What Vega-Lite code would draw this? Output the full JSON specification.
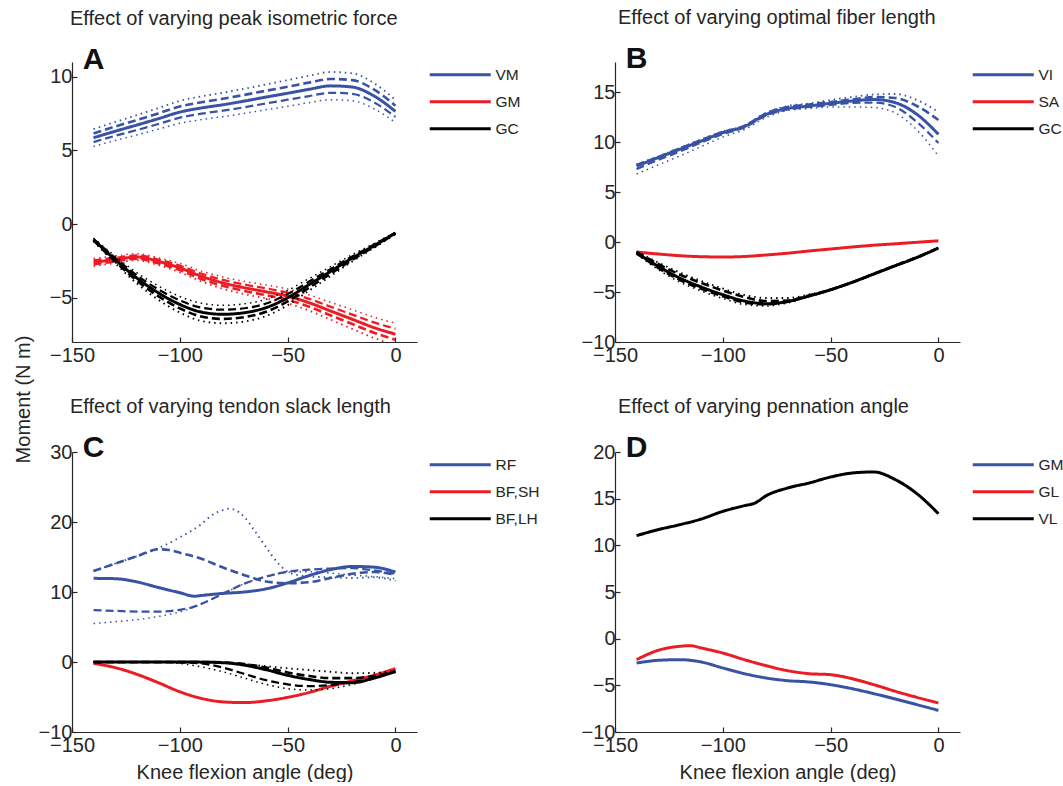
{
"$schema":"https://vega.github.io/schema/vega-lite/v6.json",
"padding":{"left":13,"top":8,"right":0,"bottom":0},
"background":"white",
"config":{"font":"Liberation Sans","view":{"stroke":null},
 "axis":{"grid":false,"domainColor":"#262626","tickColor":"#262626","labelColor":"#262626","titleColor":"#262626","labelFontSize":20,"titleFontSize":20,"titleFontWeight":"normal","tickSize":-5,"labelPadding":5,"domainWidth":1.2,"tickWidth":1.2,"labelFlush":false},
 "axisX":{"labelPadding":8,"titlePadding":7},
 "legend":{"symbolType":"M-12.2,0H0","symbolSize":100,"symbolStrokeWidth":3,"labelFontSize":15.5,"labelColor":"#262626","rowPadding":10,"padding":5,"offset":61,"labelOffset":-3},
 "title":{"fontSize":20,"fontWeight":"normal","anchor":"start","frame":"group","color":"#262626","baseline":"alphabetic","offset":16},
 "text":{"font":"Liberation Sans"}},
"resolve":{"scale":{"color":"independent"},"legend":{"color":"independent"}},
"datasets":{
"A":[
{"m":"VM","v":"s","x":-140,"y":5.86},{"m":"VM","v":"s","x":-130,"y":6.3},{"m":"VM","v":"s","x":-120,"y":6.72},{"m":"VM","v":"s","x":-110,"y":7.15},{"m":"VM","v":"s","x":-100,"y":7.6},{"m":"VM","v":"s","x":-90,"y":7.88},{"m":"VM","v":"s","x":-80,"y":8.1},{"m":"VM","v":"s","x":-70,"y":8.35},{"m":"VM","v":"s","x":-60,"y":8.62},{"m":"VM","v":"s","x":-50,"y":8.88},{"m":"VM","v":"s","x":-40,"y":9.15},{"m":"VM","v":"s","x":-30,"y":9.38},{"m":"VM","v":"s","x":-20,"y":9.3},{"m":"VM","v":"s","x":-10,"y":8.7},{"m":"VM","v":"s","x":0,"y":7.65},
{"m":"VM","v":"d1","x":-140,"y":6.15},{"m":"VM","v":"d1","x":-130,"y":6.62},{"m":"VM","v":"d1","x":-120,"y":7.06},{"m":"VM","v":"d1","x":-110,"y":7.51},{"m":"VM","v":"d1","x":-100,"y":7.98},{"m":"VM","v":"d1","x":-90,"y":8.27},{"m":"VM","v":"d1","x":-80,"y":8.51},{"m":"VM","v":"d1","x":-70,"y":8.77},{"m":"VM","v":"d1","x":-60,"y":9.05},{"m":"VM","v":"d1","x":-50,"y":9.32},{"m":"VM","v":"d1","x":-40,"y":9.61},{"m":"VM","v":"d1","x":-30,"y":9.85},{"m":"VM","v":"d1","x":-20,"y":9.77},{"m":"VM","v":"d1","x":-10,"y":9.14},{"m":"VM","v":"d1","x":0,"y":8.03},
{"m":"VM","v":"d2","x":-140,"y":5.57},{"m":"VM","v":"d2","x":-130,"y":5.99},{"m":"VM","v":"d2","x":-120,"y":6.38},{"m":"VM","v":"d2","x":-110,"y":6.79},{"m":"VM","v":"d2","x":-100,"y":7.22},{"m":"VM","v":"d2","x":-90,"y":7.49},{"m":"VM","v":"d2","x":-80,"y":7.7},{"m":"VM","v":"d2","x":-70,"y":7.93},{"m":"VM","v":"d2","x":-60,"y":8.19},{"m":"VM","v":"d2","x":-50,"y":8.44},{"m":"VM","v":"d2","x":-40,"y":8.69},{"m":"VM","v":"d2","x":-30,"y":8.91},{"m":"VM","v":"d2","x":-20,"y":8.84},{"m":"VM","v":"d2","x":-10,"y":8.27},{"m":"VM","v":"d2","x":0,"y":7.27},
{"m":"VM","v":"o1","x":-140,"y":6.45},{"m":"VM","v":"o1","x":-130,"y":6.93},{"m":"VM","v":"o1","x":-120,"y":7.39},{"m":"VM","v":"o1","x":-110,"y":7.87},{"m":"VM","v":"o1","x":-100,"y":8.36},{"m":"VM","v":"o1","x":-90,"y":8.67},{"m":"VM","v":"o1","x":-80,"y":8.91},{"m":"VM","v":"o1","x":-70,"y":9.19},{"m":"VM","v":"o1","x":-60,"y":9.48},{"m":"VM","v":"o1","x":-50,"y":9.77},{"m":"VM","v":"o1","x":-40,"y":10.07},{"m":"VM","v":"o1","x":-30,"y":10.32},{"m":"VM","v":"o1","x":-20,"y":10.23},{"m":"VM","v":"o1","x":-10,"y":9.57},{"m":"VM","v":"o1","x":0,"y":8.42},
{"m":"VM","v":"o2","x":-140,"y":5.27},{"m":"VM","v":"o2","x":-130,"y":5.67},{"m":"VM","v":"o2","x":-120,"y":6.05},{"m":"VM","v":"o2","x":-110,"y":6.44},{"m":"VM","v":"o2","x":-100,"y":6.84},{"m":"VM","v":"o2","x":-90,"y":7.09},{"m":"VM","v":"o2","x":-80,"y":7.29},{"m":"VM","v":"o2","x":-70,"y":7.52},{"m":"VM","v":"o2","x":-60,"y":7.76},{"m":"VM","v":"o2","x":-50,"y":7.99},{"m":"VM","v":"o2","x":-40,"y":8.24},{"m":"VM","v":"o2","x":-30,"y":8.44},{"m":"VM","v":"o2","x":-20,"y":8.37},{"m":"VM","v":"o2","x":-10,"y":7.83},{"m":"VM","v":"o2","x":0,"y":6.89},
{"m":"GM","v":"s","x":-140,"y":-2.59},{"m":"GM","v":"s","x":-130,"y":-2.41},{"m":"GM","v":"s","x":-120,"y":-2.23},{"m":"GM","v":"s","x":-110,"y":-2.53},{"m":"GM","v":"s","x":-100,"y":-2.97},{"m":"GM","v":"s","x":-90,"y":-3.54},{"m":"GM","v":"s","x":-80,"y":-3.99},{"m":"GM","v":"s","x":-70,"y":-4.32},{"m":"GM","v":"s","x":-60,"y":-4.59},{"m":"GM","v":"s","x":-50,"y":-4.89},{"m":"GM","v":"s","x":-40,"y":-5.34},{"m":"GM","v":"s","x":-30,"y":-5.9},{"m":"GM","v":"s","x":-20,"y":-6.46},{"m":"GM","v":"s","x":-10,"y":-7.02},{"m":"GM","v":"s","x":0,"y":-7.47},
{"m":"GM","v":"d1","x":-140,"y":-2.72},{"m":"GM","v":"d1","x":-130,"y":-2.53},{"m":"GM","v":"d1","x":-120,"y":-2.34},{"m":"GM","v":"d1","x":-110,"y":-2.66},{"m":"GM","v":"d1","x":-100,"y":-3.12},{"m":"GM","v":"d1","x":-90,"y":-3.72},{"m":"GM","v":"d1","x":-80,"y":-4.19},{"m":"GM","v":"d1","x":-70,"y":-4.54},{"m":"GM","v":"d1","x":-60,"y":-4.82},{"m":"GM","v":"d1","x":-50,"y":-5.13},{"m":"GM","v":"d1","x":-40,"y":-5.61},{"m":"GM","v":"d1","x":-30,"y":-6.2},{"m":"GM","v":"d1","x":-20,"y":-6.78},{"m":"GM","v":"d1","x":-10,"y":-7.37},{"m":"GM","v":"d1","x":0,"y":-7.84},
{"m":"GM","v":"d2","x":-140,"y":-2.46},{"m":"GM","v":"d2","x":-130,"y":-2.29},{"m":"GM","v":"d2","x":-120,"y":-2.12},{"m":"GM","v":"d2","x":-110,"y":-2.4},{"m":"GM","v":"d2","x":-100,"y":-2.82},{"m":"GM","v":"d2","x":-90,"y":-3.36},{"m":"GM","v":"d2","x":-80,"y":-3.79},{"m":"GM","v":"d2","x":-70,"y":-4.1},{"m":"GM","v":"d2","x":-60,"y":-4.36},{"m":"GM","v":"d2","x":-50,"y":-4.65},{"m":"GM","v":"d2","x":-40,"y":-5.07},{"m":"GM","v":"d2","x":-30,"y":-5.61},{"m":"GM","v":"d2","x":-20,"y":-6.14},{"m":"GM","v":"d2","x":-10,"y":-6.67},{"m":"GM","v":"d2","x":0,"y":-7.1},
{"m":"GM","v":"o1","x":-140,"y":-2.85},{"m":"GM","v":"o1","x":-130,"y":-2.65},{"m":"GM","v":"o1","x":-120,"y":-2.45},{"m":"GM","v":"o1","x":-110,"y":-2.78},{"m":"GM","v":"o1","x":-100,"y":-3.27},{"m":"GM","v":"o1","x":-90,"y":-3.89},{"m":"GM","v":"o1","x":-80,"y":-4.39},{"m":"GM","v":"o1","x":-70,"y":-4.75},{"m":"GM","v":"o1","x":-60,"y":-5.05},{"m":"GM","v":"o1","x":-50,"y":-5.38},{"m":"GM","v":"o1","x":-40,"y":-5.87},{"m":"GM","v":"o1","x":-30,"y":-6.49},{"m":"GM","v":"o1","x":-20,"y":-7.11},{"m":"GM","v":"o1","x":-10,"y":-7.72},{"m":"GM","v":"o1","x":0,"y":-8.22},
{"m":"GM","v":"o2","x":-140,"y":-2.33},{"m":"GM","v":"o2","x":-130,"y":-2.17},{"m":"GM","v":"o2","x":-120,"y":-2.01},{"m":"GM","v":"o2","x":-110,"y":-2.28},{"m":"GM","v":"o2","x":-100,"y":-2.67},{"m":"GM","v":"o2","x":-90,"y":-3.19},{"m":"GM","v":"o2","x":-80,"y":-3.59},{"m":"GM","v":"o2","x":-70,"y":-3.89},{"m":"GM","v":"o2","x":-60,"y":-4.13},{"m":"GM","v":"o2","x":-50,"y":-4.4},{"m":"GM","v":"o2","x":-40,"y":-4.81},{"m":"GM","v":"o2","x":-30,"y":-5.31},{"m":"GM","v":"o2","x":-20,"y":-5.81},{"m":"GM","v":"o2","x":-10,"y":-6.32},{"m":"GM","v":"o2","x":0,"y":-6.72},
{"m":"GC","v":"s","x":-140,"y":-1.06},{"m":"GC","v":"s","x":-130,"y":-2.41},{"m":"GC","v":"s","x":-120,"y":-3.65},{"m":"GC","v":"s","x":-110,"y":-4.66},{"m":"GC","v":"s","x":-100,"y":-5.45},{"m":"GC","v":"s","x":-90,"y":-5.97},{"m":"GC","v":"s","x":-80,"y":-6.12},{"m":"GC","v":"s","x":-70,"y":-6.01},{"m":"GC","v":"s","x":-60,"y":-5.67},{"m":"GC","v":"s","x":-50,"y":-5.0},{"m":"GC","v":"s","x":-40,"y":-4.1},{"m":"GC","v":"s","x":-30,"y":-3.2},{"m":"GC","v":"s","x":-20,"y":-2.3},{"m":"GC","v":"s","x":-10,"y":-1.47},{"m":"GC","v":"s","x":0,"y":-0.61},
{"m":"GC","v":"d1","x":-140,"y":-1.11},{"m":"GC","v":"d1","x":-130,"y":-2.53},{"m":"GC","v":"d1","x":-120,"y":-3.83},{"m":"GC","v":"d1","x":-110,"y":-4.89},{"m":"GC","v":"d1","x":-100,"y":-5.72},{"m":"GC","v":"d1","x":-90,"y":-6.27},{"m":"GC","v":"d1","x":-80,"y":-6.43},{"m":"GC","v":"d1","x":-70,"y":-6.31},{"m":"GC","v":"d1","x":-60,"y":-5.95},{"m":"GC","v":"d1","x":-50,"y":-5.25},{"m":"GC","v":"d1","x":-40,"y":-4.31},{"m":"GC","v":"d1","x":-30,"y":-3.36},{"m":"GC","v":"d1","x":-20,"y":-2.42},{"m":"GC","v":"d1","x":-10,"y":-1.54},{"m":"GC","v":"d1","x":0,"y":-0.64},
{"m":"GC","v":"d2","x":-140,"y":-1.01},{"m":"GC","v":"d2","x":-130,"y":-2.29},{"m":"GC","v":"d2","x":-120,"y":-3.47},{"m":"GC","v":"d2","x":-110,"y":-4.43},{"m":"GC","v":"d2","x":-100,"y":-5.18},{"m":"GC","v":"d2","x":-90,"y":-5.67},{"m":"GC","v":"d2","x":-80,"y":-5.81},{"m":"GC","v":"d2","x":-70,"y":-5.71},{"m":"GC","v":"d2","x":-60,"y":-5.39},{"m":"GC","v":"d2","x":-50,"y":-4.75},{"m":"GC","v":"d2","x":-40,"y":-3.9},{"m":"GC","v":"d2","x":-30,"y":-3.04},{"m":"GC","v":"d2","x":-20,"y":-2.19},{"m":"GC","v":"d2","x":-10,"y":-1.4},{"m":"GC","v":"d2","x":0,"y":-0.58},
{"m":"GC","v":"o1","x":-140,"y":-1.17},{"m":"GC","v":"o1","x":-130,"y":-2.65},{"m":"GC","v":"o1","x":-120,"y":-4.02},{"m":"GC","v":"o1","x":-110,"y":-5.13},{"m":"GC","v":"o1","x":-100,"y":-6.0},{"m":"GC","v":"o1","x":-90,"y":-6.57},{"m":"GC","v":"o1","x":-80,"y":-6.73},{"m":"GC","v":"o1","x":-70,"y":-6.61},{"m":"GC","v":"o1","x":-60,"y":-6.24},{"m":"GC","v":"o1","x":-50,"y":-5.5},{"m":"GC","v":"o1","x":-40,"y":-4.51},{"m":"GC","v":"o1","x":-30,"y":-3.52},{"m":"GC","v":"o1","x":-20,"y":-2.53},{"m":"GC","v":"o1","x":-10,"y":-1.62},{"m":"GC","v":"o1","x":0,"y":-0.67},
{"m":"GC","v":"o2","x":-140,"y":-0.95},{"m":"GC","v":"o2","x":-130,"y":-2.17},{"m":"GC","v":"o2","x":-120,"y":-3.29},{"m":"GC","v":"o2","x":-110,"y":-4.19},{"m":"GC","v":"o2","x":-100,"y":-4.91},{"m":"GC","v":"o2","x":-90,"y":-5.37},{"m":"GC","v":"o2","x":-80,"y":-5.51},{"m":"GC","v":"o2","x":-70,"y":-5.41},{"m":"GC","v":"o2","x":-60,"y":-5.1},{"m":"GC","v":"o2","x":-50,"y":-4.5},{"m":"GC","v":"o2","x":-40,"y":-3.69},{"m":"GC","v":"o2","x":-30,"y":-2.88},{"m":"GC","v":"o2","x":-20,"y":-2.07},{"m":"GC","v":"o2","x":-10,"y":-1.32},{"m":"GC","v":"o2","x":0,"y":-0.55}
],
"B":[
{"m":"VI","v":"s","x":-140,"y":7.6},{"m":"VI","v":"s","x":-130,"y":8.43},{"m":"VI","v":"s","x":-120,"y":9.27},{"m":"VI","v":"s","x":-110,"y":10.1},{"m":"VI","v":"s","x":-100,"y":10.93},{"m":"VI","v":"s","x":-90,"y":11.55},{"m":"VI","v":"s","x":-80,"y":12.75},{"m":"VI","v":"s","x":-70,"y":13.35},{"m":"VI","v":"s","x":-60,"y":13.6},{"m":"VI","v":"s","x":-50,"y":13.87},{"m":"VI","v":"s","x":-40,"y":14.1},{"m":"VI","v":"s","x":-30,"y":14.25},{"m":"VI","v":"s","x":-20,"y":13.93},{"m":"VI","v":"s","x":-10,"y":12.77},{"m":"VI","v":"s","x":0,"y":10.77},
{"m":"VI","v":"d1","x":-140,"y":7.7},{"m":"VI","v":"d1","x":-130,"y":8.5},{"m":"VI","v":"d1","x":-120,"y":9.35},{"m":"VI","v":"d1","x":-110,"y":10.2},{"m":"VI","v":"d1","x":-100,"y":11.0},{"m":"VI","v":"d1","x":-90,"y":11.6},{"m":"VI","v":"d1","x":-80,"y":12.85},{"m":"VI","v":"d1","x":-70,"y":13.5},{"m":"VI","v":"d1","x":-60,"y":13.75},{"m":"VI","v":"d1","x":-50,"y":14.0},{"m":"VI","v":"d1","x":-40,"y":14.25},{"m":"VI","v":"d1","x":-30,"y":14.5},{"m":"VI","v":"d1","x":-20,"y":14.4},{"m":"VI","v":"d1","x":-10,"y":13.6},{"m":"VI","v":"d1","x":0,"y":12.2},
{"m":"VI","v":"d2","x":-140,"y":7.3},{"m":"VI","v":"d2","x":-130,"y":8.2},{"m":"VI","v":"d2","x":-120,"y":9.05},{"m":"VI","v":"d2","x":-110,"y":9.95},{"m":"VI","v":"d2","x":-100,"y":10.8},{"m":"VI","v":"d2","x":-90,"y":11.45},{"m":"VI","v":"d2","x":-80,"y":12.65},{"m":"VI","v":"d2","x":-70,"y":13.25},{"m":"VI","v":"d2","x":-60,"y":13.5},{"m":"VI","v":"d2","x":-50,"y":13.7},{"m":"VI","v":"d2","x":-40,"y":13.9},{"m":"VI","v":"d2","x":-30,"y":13.95},{"m":"VI","v":"d2","x":-20,"y":13.5},{"m":"VI","v":"d2","x":-10,"y":12.0},{"m":"VI","v":"d2","x":0,"y":9.9},
{"m":"VI","v":"o1","x":-140,"y":7.75},{"m":"VI","v":"o1","x":-130,"y":8.55},{"m":"VI","v":"o1","x":-120,"y":9.4},{"m":"VI","v":"o1","x":-110,"y":10.25},{"m":"VI","v":"o1","x":-100,"y":11.05},{"m":"VI","v":"o1","x":-90,"y":11.65},{"m":"VI","v":"o1","x":-80,"y":12.9},{"m":"VI","v":"o1","x":-70,"y":13.6},{"m":"VI","v":"o1","x":-60,"y":13.85},{"m":"VI","v":"o1","x":-50,"y":14.2},{"m":"VI","v":"o1","x":-40,"y":14.5},{"m":"VI","v":"o1","x":-30,"y":14.75},{"m":"VI","v":"o1","x":-20,"y":14.8},{"m":"VI","v":"o1","x":-10,"y":14.2},{"m":"VI","v":"o1","x":0,"y":13.0},
{"m":"VI","v":"o2","x":-140,"y":6.8},{"m":"VI","v":"o2","x":-130,"y":7.7},{"m":"VI","v":"o2","x":-120,"y":8.6},{"m":"VI","v":"o2","x":-110,"y":9.55},{"m":"VI","v":"o2","x":-100,"y":10.5},{"m":"VI","v":"o2","x":-90,"y":11.25},{"m":"VI","v":"o2","x":-80,"y":12.45},{"m":"VI","v":"o2","x":-70,"y":13.15},{"m":"VI","v":"o2","x":-60,"y":13.35},{"m":"VI","v":"o2","x":-50,"y":13.5},{"m":"VI","v":"o2","x":-40,"y":13.5},{"m":"VI","v":"o2","x":-30,"y":13.45},{"m":"VI","v":"o2","x":-20,"y":12.9},{"m":"VI","v":"o2","x":-10,"y":11.2},{"m":"VI","v":"o2","x":0,"y":8.6},
{"m":"SA","v":"s","x":-140,"y":-1.0},{"m":"SA","v":"s","x":-130,"y":-1.2},{"m":"SA","v":"s","x":-120,"y":-1.37},{"m":"SA","v":"s","x":-110,"y":-1.47},{"m":"SA","v":"s","x":-100,"y":-1.5},{"m":"SA","v":"s","x":-90,"y":-1.45},{"m":"SA","v":"s","x":-80,"y":-1.3},{"m":"SA","v":"s","x":-70,"y":-1.12},{"m":"SA","v":"s","x":-60,"y":-0.9},{"m":"SA","v":"s","x":-50,"y":-0.7},{"m":"SA","v":"s","x":-40,"y":-0.5},{"m":"SA","v":"s","x":-30,"y":-0.32},{"m":"SA","v":"s","x":-20,"y":-0.18},{"m":"SA","v":"s","x":-10,"y":-0.03},{"m":"SA","v":"s","x":0,"y":0.12},
{"m":"GC","v":"s","x":-140,"y":-1.1},{"m":"GC","v":"s","x":-130,"y":-2.43},{"m":"GC","v":"s","x":-120,"y":-3.6},{"m":"GC","v":"s","x":-110,"y":-4.5},{"m":"GC","v":"s","x":-100,"y":-5.27},{"m":"GC","v":"s","x":-90,"y":-5.9},{"m":"GC","v":"s","x":-80,"y":-6.17},{"m":"GC","v":"s","x":-70,"y":-5.95},{"m":"GC","v":"s","x":-60,"y":-5.4},{"m":"GC","v":"s","x":-50,"y":-4.77},{"m":"GC","v":"s","x":-40,"y":-4.03},{"m":"GC","v":"s","x":-30,"y":-3.2},{"m":"GC","v":"s","x":-20,"y":-2.37},{"m":"GC","v":"s","x":-10,"y":-1.55},{"m":"GC","v":"s","x":0,"y":-0.6},
{"m":"GC","v":"d1","x":-140,"y":-1.0},{"m":"GC","v":"d1","x":-130,"y":-2.2},{"m":"GC","v":"d1","x":-120,"y":-3.25},{"m":"GC","v":"d1","x":-110,"y":-4.1},{"m":"GC","v":"d1","x":-100,"y":-4.85},{"m":"GC","v":"d1","x":-90,"y":-5.5},{"m":"GC","v":"d1","x":-80,"y":-5.9},{"m":"GC","v":"d1","x":-70,"y":-5.85},{"m":"GC","v":"d1","x":-60,"y":-5.35},{"m":"GC","v":"d1","x":-50,"y":-4.77},{"m":"GC","v":"d1","x":-40,"y":-4.03},{"m":"GC","v":"d1","x":-30,"y":-3.18},{"m":"GC","v":"d1","x":-20,"y":-2.35},{"m":"GC","v":"d1","x":-10,"y":-1.52},{"m":"GC","v":"d1","x":0,"y":-0.6},
{"m":"GC","v":"d2","x":-140,"y":-1.15},{"m":"GC","v":"d2","x":-130,"y":-2.6},{"m":"GC","v":"d2","x":-120,"y":-3.8},{"m":"GC","v":"d2","x":-110,"y":-4.7},{"m":"GC","v":"d2","x":-100,"y":-5.45},{"m":"GC","v":"d2","x":-90,"y":-6.05},{"m":"GC","v":"d2","x":-80,"y":-6.25},{"m":"GC","v":"d2","x":-70,"y":-6.0},{"m":"GC","v":"d2","x":-60,"y":-5.42},{"m":"GC","v":"d2","x":-50,"y":-4.8},{"m":"GC","v":"d2","x":-40,"y":-4.05},{"m":"GC","v":"d2","x":-30,"y":-3.22},{"m":"GC","v":"d2","x":-20,"y":-2.38},{"m":"GC","v":"d2","x":-10,"y":-1.56},{"m":"GC","v":"d2","x":0,"y":-0.62},
{"m":"GC","v":"o1","x":-140,"y":-0.95},{"m":"GC","v":"o1","x":-130,"y":-2.05},{"m":"GC","v":"o1","x":-120,"y":-3.05},{"m":"GC","v":"o1","x":-110,"y":-3.9},{"m":"GC","v":"o1","x":-100,"y":-4.65},{"m":"GC","v":"o1","x":-90,"y":-5.3},{"m":"GC","v":"o1","x":-80,"y":-5.6},{"m":"GC","v":"o1","x":-70,"y":-5.6},{"m":"GC","v":"o1","x":-60,"y":-5.25},{"m":"GC","v":"o1","x":-50,"y":-4.72},{"m":"GC","v":"o1","x":-40,"y":-4.0},{"m":"GC","v":"o1","x":-30,"y":-3.15},{"m":"GC","v":"o1","x":-20,"y":-2.33},{"m":"GC","v":"o1","x":-10,"y":-1.5},{"m":"GC","v":"o1","x":0,"y":-0.6},
{"m":"GC","v":"o2","x":-140,"y":-1.2},{"m":"GC","v":"o2","x":-130,"y":-2.75},{"m":"GC","v":"o2","x":-120,"y":-4.0},{"m":"GC","v":"o2","x":-110,"y":-4.9},{"m":"GC","v":"o2","x":-100,"y":-5.65},{"m":"GC","v":"o2","x":-90,"y":-6.25},{"m":"GC","v":"o2","x":-80,"y":-6.4},{"m":"GC","v":"o2","x":-70,"y":-6.1},{"m":"GC","v":"o2","x":-60,"y":-5.45},{"m":"GC","v":"o2","x":-50,"y":-4.82},{"m":"GC","v":"o2","x":-40,"y":-4.07},{"m":"GC","v":"o2","x":-30,"y":-3.22},{"m":"GC","v":"o2","x":-20,"y":-2.38},{"m":"GC","v":"o2","x":-10,"y":-1.56},{"m":"GC","v":"o2","x":0,"y":-0.63}
],
"C":[
{"m":"RF","v":"s","x":-140,"y":11.95},{"m":"RF","v":"s","x":-130,"y":11.9},{"m":"RF","v":"s","x":-120,"y":11.45},{"m":"RF","v":"s","x":-110,"y":10.65},{"m":"RF","v":"s","x":-100,"y":9.9},{"m":"RF","v":"s","x":-93,"y":9.4},{"m":"RF","v":"s","x":-90,"y":9.5},{"m":"RF","v":"s","x":-80,"y":9.8},{"m":"RF","v":"s","x":-70,"y":10.0},{"m":"RF","v":"s","x":-60,"y":10.45},{"m":"RF","v":"s","x":-50,"y":11.3},{"m":"RF","v":"s","x":-40,"y":12.35},{"m":"RF","v":"s","x":-30,"y":13.2},{"m":"RF","v":"s","x":-20,"y":13.65},{"m":"RF","v":"s","x":-10,"y":13.55},{"m":"RF","v":"s","x":0,"y":12.85},
{"m":"RF","v":"d1","x":-140,"y":13.0},{"m":"RF","v":"d1","x":-130,"y":14.05},{"m":"RF","v":"d1","x":-120,"y":15.1},{"m":"RF","v":"d1","x":-110,"y":16.1},{"m":"RF","v":"d1","x":-105,"y":16.0},{"m":"RF","v":"d1","x":-100,"y":15.6},{"m":"RF","v":"d1","x":-90,"y":14.75},{"m":"RF","v":"d1","x":-80,"y":13.5},{"m":"RF","v":"d1","x":-70,"y":12.4},{"m":"RF","v":"d1","x":-60,"y":11.5},{"m":"RF","v":"d1","x":-50,"y":11.25},{"m":"RF","v":"d1","x":-40,"y":11.4},{"m":"RF","v":"d1","x":-30,"y":12.0},{"m":"RF","v":"d1","x":-20,"y":12.6},{"m":"RF","v":"d1","x":-10,"y":12.85},{"m":"RF","v":"d1","x":0,"y":12.5},
{"m":"RF","v":"o1","x":-140,"y":13.0},{"m":"RF","v":"o1","x":-130,"y":14.05},{"m":"RF","v":"o1","x":-120,"y":15.1},{"m":"RF","v":"o1","x":-110,"y":16.25},{"m":"RF","v":"o1","x":-100,"y":17.8},{"m":"RF","v":"o1","x":-90,"y":19.7},{"m":"RF","v":"o1","x":-85,"y":21.0},{"m":"RF","v":"o1","x":-80,"y":21.7},{"m":"RF","v":"o1","x":-77,"y":21.9},{"m":"RF","v":"o1","x":-75,"y":21.8},{"m":"RF","v":"o1","x":-70,"y":20.7},{"m":"RF","v":"o1","x":-65,"y":18.6},{"m":"RF","v":"o1","x":-60,"y":16.4},{"m":"RF","v":"o1","x":-55,"y":14.3},{"m":"RF","v":"o1","x":-50,"y":12.9},{"m":"RF","v":"o1","x":-45,"y":12.4},{"m":"RF","v":"o1","x":-40,"y":12.2},{"m":"RF","v":"o1","x":-30,"y":12.1},{"m":"RF","v":"o1","x":-20,"y":12.0},{"m":"RF","v":"o1","x":-10,"y":12.1},{"m":"RF","v":"o1","x":0,"y":11.6},
{"m":"RF","v":"d2","x":-140,"y":7.4},{"m":"RF","v":"d2","x":-130,"y":7.3},{"m":"RF","v":"d2","x":-120,"y":7.2},{"m":"RF","v":"d2","x":-110,"y":7.2},{"m":"RF","v":"d2","x":-100,"y":7.45},{"m":"RF","v":"d2","x":-95,"y":7.75},{"m":"RF","v":"d2","x":-90,"y":8.3},{"m":"RF","v":"d2","x":-80,"y":9.75},{"m":"RF","v":"d2","x":-70,"y":11.2},{"m":"RF","v":"d2","x":-60,"y":12.2},{"m":"RF","v":"d2","x":-50,"y":12.9},{"m":"RF","v":"d2","x":-40,"y":13.2},{"m":"RF","v":"d2","x":-30,"y":13.35},{"m":"RF","v":"d2","x":-20,"y":13.4},{"m":"RF","v":"d2","x":-10,"y":13.1},{"m":"RF","v":"d2","x":0,"y":12.6},
{"m":"RF","v":"o2","x":-140,"y":5.5},{"m":"RF","v":"o2","x":-130,"y":5.75},{"m":"RF","v":"o2","x":-120,"y":6.05},{"m":"RF","v":"o2","x":-110,"y":6.5},{"m":"RF","v":"o2","x":-100,"y":7.15},{"m":"RF","v":"o2","x":-95,"y":7.65},{"m":"RF","v":"o2","x":-90,"y":8.3},{"m":"RF","v":"o2","x":-80,"y":9.75},{"m":"RF","v":"o2","x":-70,"y":11.2},{"m":"RF","v":"o2","x":-60,"y":12.2},{"m":"RF","v":"o2","x":-50,"y":12.8},{"m":"RF","v":"o2","x":-40,"y":12.9},{"m":"RF","v":"o2","x":-30,"y":12.7},{"m":"RF","v":"o2","x":-20,"y":12.4},{"m":"RF","v":"o2","x":-10,"y":12.2},{"m":"RF","v":"o2","x":0,"y":11.9},
{"m":"BF,SH","v":"s","x":-140,"y":-0.2},{"m":"BF,SH","v":"s","x":-130,"y":-0.8},{"m":"BF,SH","v":"s","x":-120,"y":-1.75},{"m":"BF,SH","v":"s","x":-110,"y":-2.95},{"m":"BF,SH","v":"s","x":-100,"y":-4.25},{"m":"BF,SH","v":"s","x":-90,"y":-5.2},{"m":"BF,SH","v":"s","x":-80,"y":-5.7},{"m":"BF,SH","v":"s","x":-70,"y":-5.8},{"m":"BF,SH","v":"s","x":-60,"y":-5.55},{"m":"BF,SH","v":"s","x":-50,"y":-5.05},{"m":"BF,SH","v":"s","x":-40,"y":-4.35},{"m":"BF,SH","v":"s","x":-30,"y":-3.45},{"m":"BF,SH","v":"s","x":-20,"y":-2.7},{"m":"BF,SH","v":"s","x":-10,"y":-1.9},{"m":"BF,SH","v":"s","x":0,"y":-0.95},
{"m":"BF,LH","v":"s","x":-140,"y":0},{"m":"BF,LH","v":"s","x":-130,"y":0},{"m":"BF,LH","v":"s","x":-120,"y":0},{"m":"BF,LH","v":"s","x":-110,"y":0},{"m":"BF,LH","v":"s","x":-100,"y":0},{"m":"BF,LH","v":"s","x":-90,"y":-0.02},{"m":"BF,LH","v":"s","x":-80,"y":-0.1},{"m":"BF,LH","v":"s","x":-70,"y":-0.45},{"m":"BF,LH","v":"s","x":-60,"y":-1.1},{"m":"BF,LH","v":"s","x":-50,"y":-1.9},{"m":"BF,LH","v":"s","x":-40,"y":-2.5},{"m":"BF,LH","v":"s","x":-30,"y":-2.9},{"m":"BF,LH","v":"s","x":-20,"y":-2.95},{"m":"BF,LH","v":"s","x":-10,"y":-2.3},{"m":"BF,LH","v":"s","x":0,"y":-1.35},
{"m":"BF,LH","v":"d1","x":-140,"y":0},{"m":"BF,LH","v":"d1","x":-130,"y":0},{"m":"BF,LH","v":"d1","x":-120,"y":0},{"m":"BF,LH","v":"d1","x":-110,"y":0},{"m":"BF,LH","v":"d1","x":-100,"y":0},{"m":"BF,LH","v":"d1","x":-90,"y":0},{"m":"BF,LH","v":"d1","x":-80,"y":-0.05},{"m":"BF,LH","v":"d1","x":-70,"y":-0.3},{"m":"BF,LH","v":"d1","x":-60,"y":-0.8},{"m":"BF,LH","v":"d1","x":-50,"y":-1.5},{"m":"BF,LH","v":"d1","x":-40,"y":-2.0},{"m":"BF,LH","v":"d1","x":-30,"y":-2.3},{"m":"BF,LH","v":"d1","x":-20,"y":-2.3},{"m":"BF,LH","v":"d1","x":-10,"y":-2.0},{"m":"BF,LH","v":"d1","x":0,"y":-1.4},
{"m":"BF,LH","v":"d2","x":-140,"y":0},{"m":"BF,LH","v":"d2","x":-130,"y":0},{"m":"BF,LH","v":"d2","x":-120,"y":0},{"m":"BF,LH","v":"d2","x":-110,"y":0},{"m":"BF,LH","v":"d2","x":-100,"y":-0.05},{"m":"BF,LH","v":"d2","x":-90,"y":-0.2},{"m":"BF,LH","v":"d2","x":-80,"y":-0.8},{"m":"BF,LH","v":"d2","x":-70,"y":-1.7},{"m":"BF,LH","v":"d2","x":-60,"y":-2.6},{"m":"BF,LH","v":"d2","x":-50,"y":-3.2},{"m":"BF,LH","v":"d2","x":-40,"y":-3.45},{"m":"BF,LH","v":"d2","x":-30,"y":-3.3},{"m":"BF,LH","v":"d2","x":-20,"y":-2.9},{"m":"BF,LH","v":"d2","x":-10,"y":-2.3},{"m":"BF,LH","v":"d2","x":0,"y":-1.3},
{"m":"BF,LH","v":"o1","x":-140,"y":0},{"m":"BF,LH","v":"o1","x":-130,"y":0},{"m":"BF,LH","v":"o1","x":-120,"y":0},{"m":"BF,LH","v":"o1","x":-110,"y":0},{"m":"BF,LH","v":"o1","x":-100,"y":0},{"m":"BF,LH","v":"o1","x":-90,"y":0},{"m":"BF,LH","v":"o1","x":-80,"y":-0.1},{"m":"BF,LH","v":"o1","x":-70,"y":-0.3},{"m":"BF,LH","v":"o1","x":-60,"y":-0.6},{"m":"BF,LH","v":"o1","x":-50,"y":-0.9},{"m":"BF,LH","v":"o1","x":-40,"y":-1.15},{"m":"BF,LH","v":"o1","x":-30,"y":-1.4},{"m":"BF,LH","v":"o1","x":-20,"y":-1.6},{"m":"BF,LH","v":"o1","x":-10,"y":-1.55},{"m":"BF,LH","v":"o1","x":0,"y":-1.3},
{"m":"BF,LH","v":"o2","x":-140,"y":0},{"m":"BF,LH","v":"o2","x":-130,"y":0},{"m":"BF,LH","v":"o2","x":-120,"y":0},{"m":"BF,LH","v":"o2","x":-110,"y":0},{"m":"BF,LH","v":"o2","x":-100,"y":-0.2},{"m":"BF,LH","v":"o2","x":-90,"y":-0.7},{"m":"BF,LH","v":"o2","x":-80,"y":-1.4},{"m":"BF,LH","v":"o2","x":-70,"y":-2.3},{"m":"BF,LH","v":"o2","x":-60,"y":-3.2},{"m":"BF,LH","v":"o2","x":-50,"y":-3.8},{"m":"BF,LH","v":"o2","x":-40,"y":-4.0},{"m":"BF,LH","v":"o2","x":-30,"y":-3.8},{"m":"BF,LH","v":"o2","x":-20,"y":-3.2},{"m":"BF,LH","v":"o2","x":-10,"y":-2.4},{"m":"BF,LH","v":"o2","x":0,"y":-1.4}
],
"D":[
{"m":"VL","v":"s","x":-140,"y":11.04},{"m":"VL","v":"s","x":-130,"y":11.68},{"m":"VL","v":"s","x":-120,"y":12.21},{"m":"VL","v":"s","x":-110,"y":12.82},{"m":"VL","v":"s","x":-100,"y":13.64},{"m":"VL","v":"s","x":-90,"y":14.25},{"m":"VL","v":"s","x":-85,"y":14.54},{"m":"VL","v":"s","x":-80,"y":15.3},{"m":"VL","v":"s","x":-70,"y":16.14},{"m":"VL","v":"s","x":-60,"y":16.68},{"m":"VL","v":"s","x":-50,"y":17.32},{"m":"VL","v":"s","x":-40,"y":17.75},{"m":"VL","v":"s","x":-30,"y":17.86},{"m":"VL","v":"s","x":-20,"y":17.04},{"m":"VL","v":"s","x":-10,"y":15.54},{"m":"VL","v":"s","x":0,"y":13.39},
{"m":"GL","v":"s","x":-140,"y":-2.25},{"m":"GL","v":"s","x":-130,"y":-1.25},{"m":"GL","v":"s","x":-120,"y":-0.82},{"m":"GL","v":"s","x":-115,"y":-0.75},{"m":"GL","v":"s","x":-110,"y":-1.0},{"m":"GL","v":"s","x":-100,"y":-1.54},{"m":"GL","v":"s","x":-90,"y":-2.25},{"m":"GL","v":"s","x":-80,"y":-2.89},{"m":"GL","v":"s","x":-70,"y":-3.43},{"m":"GL","v":"s","x":-60,"y":-3.75},{"m":"GL","v":"s","x":-50,"y":-3.86},{"m":"GL","v":"s","x":-40,"y":-4.29},{"m":"GL","v":"s","x":-30,"y":-4.93},{"m":"GL","v":"s","x":-20,"y":-5.64},{"m":"GL","v":"s","x":-10,"y":-6.29},{"m":"GL","v":"s","x":0,"y":-6.89},
{"m":"GM","v":"s","x":-140,"y":-2.61},{"m":"GM","v":"s","x":-130,"y":-2.32},{"m":"GM","v":"s","x":-120,"y":-2.25},{"m":"GM","v":"s","x":-110,"y":-2.5},{"m":"GM","v":"s","x":-100,"y":-3.14},{"m":"GM","v":"s","x":-90,"y":-3.75},{"m":"GM","v":"s","x":-80,"y":-4.21},{"m":"GM","v":"s","x":-70,"y":-4.5},{"m":"GM","v":"s","x":-60,"y":-4.64},{"m":"GM","v":"s","x":-50,"y":-4.93},{"m":"GM","v":"s","x":-40,"y":-5.36},{"m":"GM","v":"s","x":-30,"y":-5.89},{"m":"GM","v":"s","x":-20,"y":-6.46},{"m":"GM","v":"s","x":-10,"y":-7.07},{"m":"GM","v":"s","x":0,"y":-7.68}
]},
"concat":[
{"title":{"text":"Effect of varying peak isometric force","dx":-2},"width":345,"height":280,
 "layer":[
  {"data":{"name":"A"},"mark":{"type":"line","clip":true,"interpolate":"monotone"},
   "encoding":{
    "x":{"field":"x","type":"quantitative","scale":{"domain":[-150,10],"nice":false},"axis":{"values":[-150,-100,-50,0],"title":null}},
    "y":{"field":"y","type":"quantitative","scale":{"domain":[-8,11],"nice":false},"axis":{"values":[-5,0,5,10],"title":"Moment (N m)","titleX":-43,"titleY":337,"titleAngle":-90,"titleBaseline":"alphabetic","titleAlign":"center"}},
    "color":{"field":"m","type":"nominal","scale":{"domain":["VM","GM","GC"],"range":["#3953a4","#ec1c24","#000000"]},"legend":{"title":null}},
    "strokeDash":{"field":"v","type":"nominal","scale":{"domain":["s","d1","d2","o1","o2"],"range":[[1,0],[8,4],[8,4],[1.5,4],[1.5,4]]},"legend":null},
    "strokeWidth":{"field":"v","type":"nominal","scale":{"domain":["s","d1","d2","o1","o2"],"range":[3,1.5,1.5,1.5,1.5]},"legend":null}}},
  {"data":{"values":[{"t":"A"}]},"mark":{"type":"text","fontSize":30,"fontWeight":"bold","align":"left","baseline":"alphabetic","dy":7,"color":"#111111"},
   "encoding":{"text":{"field":"t"},"x":{"datum":-145},"y":{"datum":11}}}
 ]},
{"title":{"text":"Effect of varying optimal fiber length","dx":3},"width":345,"height":280,
 "layer":[
  {"data":{"name":"B"},"mark":{"type":"line","clip":true,"interpolate":"monotone"},
   "encoding":{
    "x":{"field":"x","type":"quantitative","scale":{"domain":[-150,10],"nice":false},"axis":{"values":[-150,-100,-50,0],"title":null}},
    "y":{"field":"y","type":"quantitative","scale":{"domain":[-10,18],"nice":false},"axis":{"values":[-10,-5,0,5,10,15],"title":null}},
    "color":{"field":"m","type":"nominal","scale":{"domain":["VI","SA","GC"],"range":["#3953a4","#ec1c24","#000000"]},"legend":{"title":null}},
    "strokeDash":{"field":"v","type":"nominal","scale":{"domain":["s","d1","d2","o1","o2"],"range":[[1,0],[8,4],[8,4],[1.5,4],[1.5,4]]},"legend":null},
    "strokeWidth":{"field":"v","type":"nominal","scale":{"domain":["s","d1","d2","o1","o2"],"range":[3,1.5,1.5,1.5,1.5]},"legend":null}}},
  {"data":{"values":[{"t":"B"}]},"mark":{"type":"text","fontSize":30,"fontWeight":"bold","align":"left","baseline":"alphabetic","dy":6,"color":"#111111"},
   "encoding":{"text":{"field":"t"},"x":{"datum":-145},"y":{"datum":18}}}
 ]},
{"title":{"text":"Effect of varying tendon slack length","dx":-2},"width":345,"height":280,
 "layer":[
  {"data":{"name":"C"},"mark":{"type":"line","clip":true,"interpolate":"monotone"},
   "encoding":{
    "x":{"field":"x","type":"quantitative","scale":{"domain":[-150,10],"nice":false},"axis":{"values":[-150,-100,-50,0],"title":"Knee flexion angle (deg)"}},
    "y":{"field":"y","type":"quantitative","scale":{"domain":[-10,30],"nice":false},"axis":{"values":[-10,0,10,20,30],"title":null}},
    "color":{"field":"m","type":"nominal","scale":{"domain":["RF","BF,SH","BF,LH"],"range":["#3953a4","#ec1c24","#000000"]},"legend":{"title":null}},
    "strokeDash":{"field":"v","type":"nominal","scale":{"domain":["s","d1","d2","o1","o2"],"range":[[1,0],[8,4],[8,4],[1.5,4],[1.5,4]]},"legend":null},
    "strokeWidth":{"field":"v","type":"nominal","scale":{"domain":["s","d1","d2","o1","o2"],"range":[3,1.5,1.5,1.5,1.5]},"legend":null}}},
  {"data":{"values":[{"t":"C"}]},"mark":{"type":"text","fontSize":30,"fontWeight":"bold","align":"left","baseline":"alphabetic","dy":5,"color":"#111111"},
   "encoding":{"text":{"field":"t"},"x":{"datum":-145},"y":{"datum":30}}}
 ]},
{"title":{"text":"Effect of varying pennation angle","dx":3},"width":345,"height":280,
 "layer":[
  {"data":{"name":"D"},"mark":{"type":"line","clip":true,"interpolate":"monotone"},
   "encoding":{
    "x":{"field":"x","type":"quantitative","scale":{"domain":[-150,10],"nice":false},"axis":{"values":[-150,-100,-50,0],"title":"Knee flexion angle (deg)"}},
    "y":{"field":"y","type":"quantitative","scale":{"domain":[-10,20],"nice":false},"axis":{"values":[-10,-5,0,5,10,15,20],"title":null}},
    "color":{"field":"m","type":"nominal","scale":{"domain":["GM","GL","VL"],"range":["#3953a4","#ec1c24","#000000"]},"legend":{"title":null}},
    "strokeDash":{"field":"v","type":"nominal","scale":{"domain":["s","d1","d2","o1","o2"],"range":[[1,0],[8,4],[8,4],[1.5,4],[1.5,4]]},"legend":null},
    "strokeWidth":{"field":"v","type":"nominal","scale":{"domain":["s","d1","d2","o1","o2"],"range":[3,1.5,1.5,1.5,1.5]},"legend":null}}},
  {"data":{"values":[{"t":"D"}]},"mark":{"type":"text","fontSize":30,"fontWeight":"bold","align":"left","baseline":"alphabetic","dy":5,"color":"#111111"},
   "encoding":{"text":{"field":"t"},"x":{"datum":-145},"y":{"datum":20}}}
 ]}
],
"columns":2,
"bounds":"flush",
"spacing":{"row":110,"column":198}
}
